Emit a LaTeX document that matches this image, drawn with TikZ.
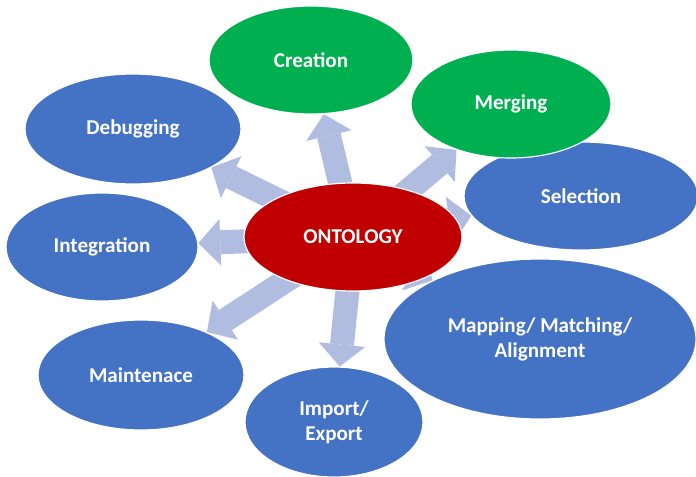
\documentclass[tikz,border=0pt]{standalone}
\usepackage{fontspec}
\setmainfont{Carlito}
\usetikzlibrary{positioning, arrows.meta, shapes.geometric, backgrounds}
\definecolor{colour_topic}{HTML}{4472C4}
\definecolor{colour_task}{HTML}{00B050}
\definecolor{colour_core}{HTML}{C00000}
\definecolor{colour_arrow}{HTML}{B0BDE0}

\begin{document}
\begin{tikzpicture}[
    x=0.03cm, y=-0.03cm,
    font=\bfseries\fontsize{18}{21.5}\selectfont,
    blob/.style={ellipse, draw=white, line width=1pt, text=white,
                 align=center, inner sep=0pt},
    size/.style 2 args={minimum width=#1*0.03cm, minimum height=#2*0.03cm},
    topic/.style={blob, fill=colour_topic},
    task/.style={blob, fill=colour_task},
    core/.style={blob, fill=colour_core},
    bigarrow/.style={draw=colour_arrow, line width=0.72cm,
                     -{Triangle[length=0.66cm, width=1.4cm, line width=0pt]}}
]
\useasboundingbox (0,0) rectangle (696,477);

% Outer ellipses
\node[task, size={204}{108}] (creation) at (311,60) {Creation};
\node[topic, size={216}{110}] (debug) at (133,129) {Debugging};
\node[topic, size={234}{108}] (select) at (581,196) {Selection};
\node[task, size={200}{108}] (merge) at (511,104) {Merging};
\node[topic, size={192}{108}] (integ) at (102,247) {Integration};
\node[topic, size={312}{160}] (mapping) at (540,339) {Mapping/ Matching/\\Alignment};
\node[topic, size={206}{110}] (maint) at (141,375) {Maintenace};
\node[topic, size={178}{110}] (import) at (334,422) {Import/\\Export};

% Centre
\node[core, size={218}{108}] (onto) at (353,237) {ONTOLOGY};

% Arrows behind the ellipses
\begin{pgfonlayer}{background}
\draw[bigarrow] (onto.center) -- (creation);
\draw[bigarrow] (onto.center) -- (debug);
\draw[bigarrow] (onto.center) -- (merge);
\draw[bigarrow] (onto.center) -- (select);
\draw[bigarrow] (onto.center) -- (integ);
\draw[bigarrow] (onto.center) -- (mapping);
\draw[bigarrow] (onto.center) -- (maint);
\draw[bigarrow] (onto.center) -- (import);
\end{pgfonlayer}

\end{tikzpicture}
\end{document}
